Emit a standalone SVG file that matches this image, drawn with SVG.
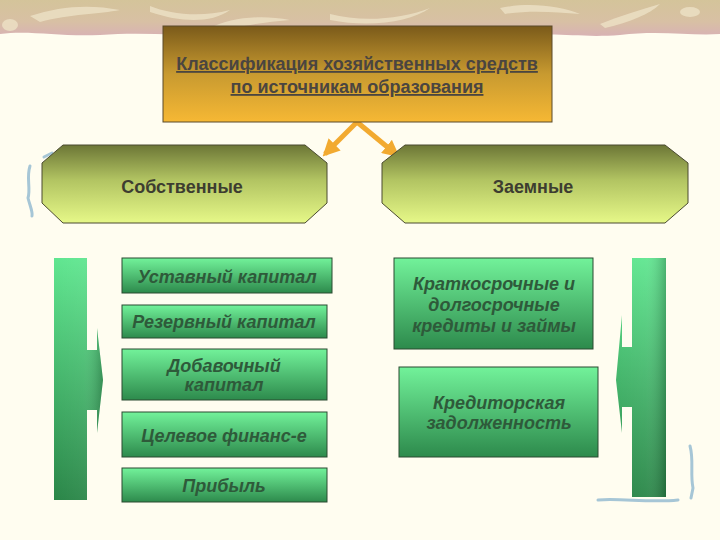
<svg xmlns="http://www.w3.org/2000/svg" width="720" height="540" viewBox="0 0 720 540">
<defs>
<linearGradient id="gTitle" x1="0" y1="0" x2="0" y2="1"><stop offset="0" stop-color="#7a5a1a"/><stop offset="0.5" stop-color="#c89a30"/><stop offset="1" stop-color="#f6b834"/></linearGradient>
<linearGradient id="gOct" x1="0" y1="0" x2="0" y2="1"><stop offset="0" stop-color="#6c7636"/><stop offset="0.45" stop-color="#b2c462"/><stop offset="1" stop-color="#e6f888"/></linearGradient>
<linearGradient id="gBox" x1="0" y1="0" x2="0" y2="1"><stop offset="0" stop-color="#72f29a"/><stop offset="1" stop-color="#2d8a4c"/></linearGradient>
<linearGradient id="gBar" x1="0" y1="0" x2="0" y2="1"><stop offset="0" stop-color="#60e690"/><stop offset="1" stop-color="#2a8648"/></linearGradient>
<linearGradient id="gBarH" x1="0" y1="0" x2="1" y2="0"><stop offset="0" stop-color="#ffffff" stop-opacity="0"/><stop offset="0.6" stop-color="#ffffff" stop-opacity="0.05"/><stop offset="1" stop-color="#000000" stop-opacity="0.22"/></linearGradient>
<linearGradient id="gBand" x1="0" y1="0" x2="0" y2="1"><stop offset="0" stop-color="#d4c49a"/><stop offset="0.6" stop-color="#d8c0a4"/><stop offset="1" stop-color="#d8b2b4"/></linearGradient>
<marker id="ah" viewBox="0 0 10 10" refX="8" refY="5" markerWidth="3.4" markerHeight="3.4" orient="auto"><path d="M0,0 L10,5 L0,10 Z" fill="#f2aa30"/></marker>
<style>
.t{font-family:"Liberation Sans",Arial,sans-serif;font-weight:bold;}
.title{font-size:18px;fill:#4a4540;text-decoration:underline;}
.oct{font-size:18px;fill:#3d3d30;}
.bx{font-size:18px;font-style:italic;fill:#2e5a3a;}
.box{fill:url(#gBox);stroke:#2a4a30;stroke-width:1;}
.squig{fill:none;stroke:#a6c6d6;stroke-width:3;stroke-linecap:round;}
</style>
</defs>
<rect width="720" height="540" fill="#fffdf0"/>
<g id="band">
<path d="M0,0 H720 V34 C690,36 660,30 620,35 C580,38 560,32 520,36 L400,34 C350,37 300,30 250,34 C200,38 150,31 100,35 C60,37 30,30 0,34 Z" fill="url(#gBand)"/>
<g fill="#ece0c4" opacity="0.85">
<path d="M30,16 C60,6 90,4 120,10 C100,14 70,14 40,22 Z"/>
<path d="M150,6 C170,14 200,18 230,10 C210,24 180,22 150,12 Z"/>
<path d="M210,28 C230,18 260,14 290,20 C265,22 240,26 215,32 Z"/>
<path d="M330,14 C360,22 400,20 430,8 C410,22 370,28 330,20 Z"/>
<path d="M500,8 C530,2 560,6 580,14 C555,12 530,10 505,14 Z"/>
<path d="M600,24 C620,16 640,10 660,4 C650,14 630,22 605,28 Z"/>
<ellipse cx="10" cy="25" rx="8" ry="6"/>
<ellipse cx="470" cy="30" rx="12" ry="4"/>
<ellipse cx="690" cy="12" rx="10" ry="5"/>
</g>
</g>
<g id="squiggles">
<path class="squig" d="M30,166 C26,178 31,188 28,198 C30,206 33,212 32,216"/>
<path class="squig" d="M44,157 L52,153"/>
<path class="squig" d="M690,446 C694,460 690,474 693,488 L691,498"/>
<path class="squig" d="M598,500 C620,498 650,503 678,500"/>
</g>
<g id="connectors">
<line x1="357" y1="122" x2="325" y2="154" stroke="#f2aa30" stroke-width="5" marker-end="url(#ah)"/>
<line x1="357" y1="122" x2="397" y2="155" stroke="#f2aa30" stroke-width="5" marker-end="url(#ah)"/>
</g>
<g id="title">
<rect x="163" y="26" width="389" height="96" fill="url(#gTitle)" stroke="#5a4a2a" stroke-width="1"/>
<text class="t title" x="357" y="70" text-anchor="middle">Классификация хозяйственных средств</text>
<text class="t title" x="357" y="93" text-anchor="middle">по источникам образования</text>
</g>
<g id="own">
<polygon points="63,145 305,145 327,163 327,203 305,223 63,223 42,203 42,163" fill="url(#gOct)" stroke="#4a4a30" stroke-width="1"/>
<text class="t oct" x="182" y="193" text-anchor="middle">Собственные</text>
</g>
<g id="borrowed">
<polygon points="405,145 665,145 688,163 688,203 665,223 405,223 382,203 382,163" fill="url(#gOct)" stroke="#4a4a30" stroke-width="1"/>
<text class="t oct" x="533" y="193" text-anchor="middle">Заемные</text>
</g>
<g id="leftbar">
<path d="M54,258 H87 V350 H97 L97,328 L103,380 L97,433 V410 H87 V500 H54 Z" fill="url(#gBar)"/>
<path d="M54,258 H87 V350 H97 L97,328 L103,380 L97,433 V410 H87 V500 H54 Z" fill="url(#gBarH)"/>
</g>
<g id="rightbar">
<path d="M632,258 H666 V497 H632 V407 H622 L622,433 L616,380 L622,315 V347 H632 Z" fill="url(#gBar)"/>
<path d="M632,258 H666 V497 H632 V407 H622 L622,433 L616,380 L622,315 V347 H632 Z" fill="url(#gBarH)"/>
</g>
<g id="ustav">
<rect class="box" x="122" y="258" width="210" height="35"/>
<text class="t bx" x="227" y="283" text-anchor="middle">Уставный капитал</text>
</g>
<g id="rezerv">
<rect class="box" x="122" y="305" width="205" height="33"/>
<text class="t bx" x="224" y="328" text-anchor="middle">Резервный капитал</text>
</g>
<g id="dobav">
<rect class="box" x="122" y="349" width="205" height="51"/>
<text class="t bx" x="224" y="372" text-anchor="middle">Добавочный</text>
<text class="t bx" x="224" y="391" text-anchor="middle">капитал</text>
</g>
<g id="celevoe">
<rect class="box" x="122" y="412" width="205" height="45"/>
<text class="t bx" x="224" y="442" text-anchor="middle">Целевое финанс-е</text>
</g>
<g id="pribyl">
<rect class="box" x="122" y="468" width="205" height="34"/>
<text class="t bx" x="224" y="492" text-anchor="middle">Прибыль</text>
</g>
<g id="kredity">
<rect class="box" x="394" y="258" width="199" height="91"/>
<text class="t bx" x="494" y="290" text-anchor="middle">Краткосрочные и</text>
<text class="t bx" x="494" y="311" text-anchor="middle">долгосрочные</text>
<text class="t bx" x="494" y="332" text-anchor="middle">кредиты и займы</text>
</g>
<g id="kreditor">
<rect class="box" x="399" y="367" width="199" height="90"/>
<text class="t bx" x="499" y="409" text-anchor="middle">Кредиторская</text>
<text class="t bx" x="499" y="429" text-anchor="middle">задолженность</text>
</g>
</svg>
